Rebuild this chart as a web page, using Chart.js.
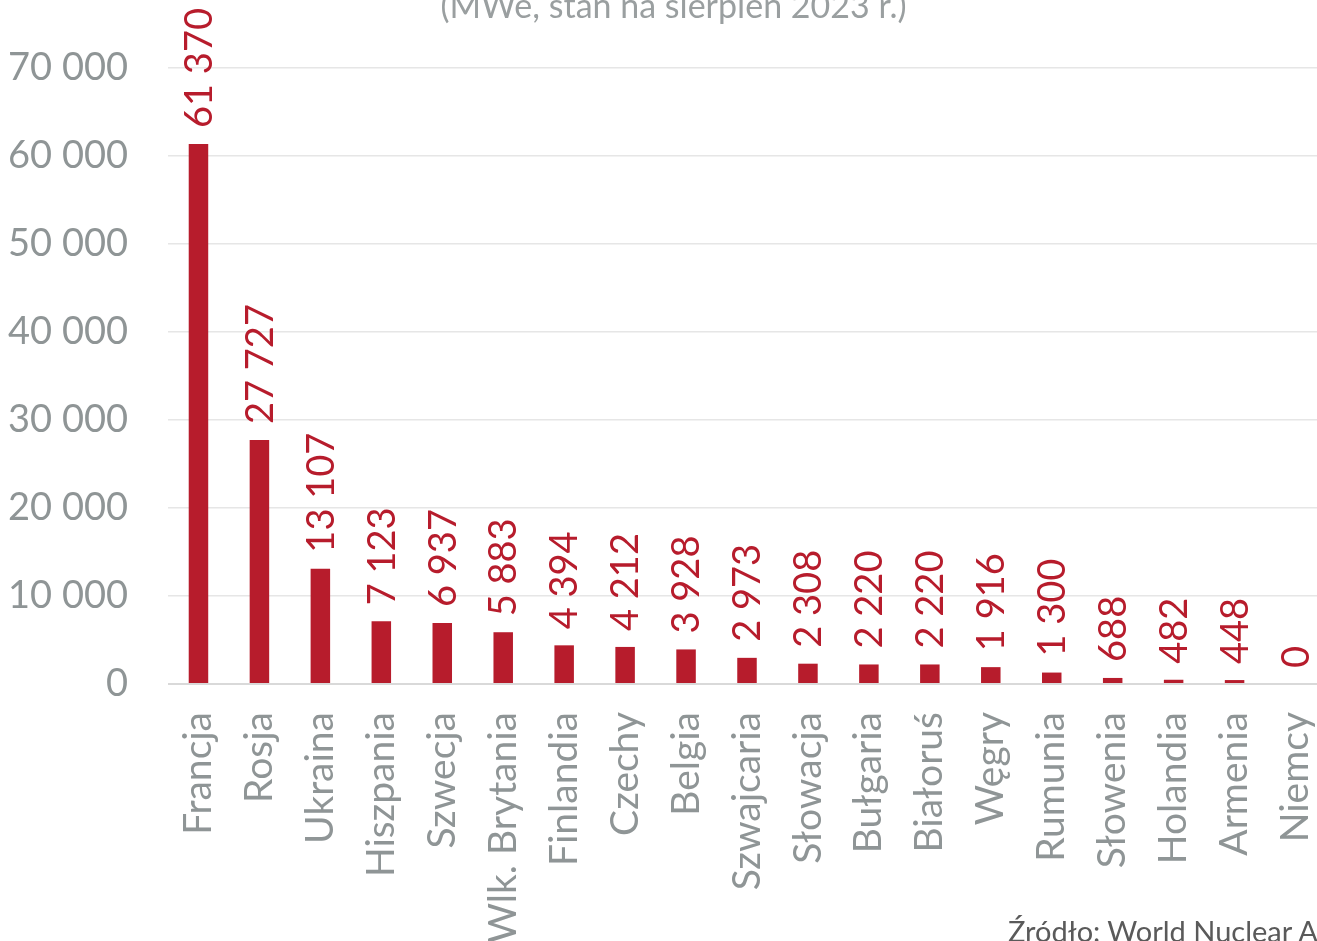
<!DOCTYPE html>
<html>
<head>
    <title>Moc zainstalowana w elektrowniach jądrowych</title>
    <script src="https://cdn.jsdelivr.net/npm/chart.js"></script>
    <style>
        html, body {
            margin: 0;
            padding: 0;
            background: #ffffff;
            overflow: hidden;
            font-family: 'Lato', sans-serif;
        }

        .wrap {
            position: relative;
            width: 1317px;
            height: 941px;
            overflow: hidden;
        }

        canvas {
            display: block;
        }

        .subtitle {
            position: absolute;
            top: -16px;
            left: 0;
            width: 1317px;
            padding-left: 30px;
            box-sizing: border-box;
            text-align: center;
            font-size: 34px;
            color: #9a9fa0;
            white-space: nowrap;
        }

        .source {
            position: absolute;
            left: 1008px;
            top: 913px;
            font-size: 29px;
            color: #5a5a5a;
            white-space: nowrap;
        }
    </style>
</head>
<body>
<div class="wrap">
    <!-- plot area runs a little past the right edge, as in the original crop -->
    <canvas id="capacityChart" width="1326" height="941"></canvas>
    <div class="subtitle">(MWe, stan na sierpień 2023 r.)</div>
    <div class="source">Źródło: World Nuclear Association</div>
</div>

<script>
    const countries = ['Francja', 'Rosja', 'Ukraina', 'Hiszpania', 'Szwecja', 'Wlk. Brytania', 'Finlandia',
        'Czechy', 'Belgia', 'Szwajcaria', 'Słowacja', 'Bułgaria', 'Białoruś', 'Węgry', 'Rumunia',
        'Słowenia', 'Holandia', 'Armenia', 'Niemcy'];
    const capacityMWe = [61370, 27727, 13107, 7123, 6937, 5883, 4394, 4212, 3928, 2973, 2308, 2220,
        2220, 1916, 1300, 688, 482, 448, 0];
    const yTicks = [0, 10000, 20000, 30000, 40000, 50000, 60000, 70000];

    const red = '#b71c2c';
    const grey = '#8f9596';

    function formatPl(v) {
        return String(v).replace(/\B(?=(\d{3})+(?!\d))/g, ' ');
    }

    // vertical value labels above the bars
    const barLabels = {
        id: 'barLabels',
        afterDatasetsDraw(chart) {
            const ctx = chart.ctx;
            const meta = chart.getDatasetMeta(0);
            ctx.save();
            ctx.fillStyle = red;
            ctx.font = '38px Lato';
            ctx.textAlign = 'left';
            ctx.textBaseline = 'middle';
            meta.data.forEach((bar, i) => {
                ctx.save();
                ctx.translate(bar.x + 1, bar.y - 16);
                ctx.rotate(-Math.PI / 2);
                ctx.fillText(formatPl(capacityMWe[i]), 0, 0);
                ctx.restore();
            });
            ctx.restore();
        }
    };

    new Chart(document.getElementById('capacityChart').getContext('2d'), {
        type: 'bar',
        data: {
            labels: countries,
            datasets: [{
                data: capacityMWe,
                backgroundColor: red,
                borderWidth: 0,
                barPercentage: 0.32,
                categoryPercentage: 1
            }]
        },
        options: {
            responsive: false,
            animation: false,
            layout: {
                padding: {top: 68, right: 0, left: 0, bottom: 0}
            },
            plugins: {
                legend: {display: false},
                tooltip: {enabled: false}
            },
            scales: {
                x: {
                    grid: {display: false},
                    border: {display: false},
                    afterFit: scale => {
                        scale.height = 257;
                        scale.paddingLeft = 0;
                        scale.paddingRight = 0;
                    },
                    ticks: {
                        color: grey,
                        font: {family: 'Lato', size: 39},
                        minRotation: 90,
                        maxRotation: 90,
                        padding: 20,
                        autoSkip: false
                    }
                },
                y: {
                    min: 0,
                    max: 70000,
                    afterFit: scale => { scale.width = 168; },
                    afterBuildTicks: scale => {
                        scale.ticks = yTicks.map(v => ({value: v}));
                    },
                    border: {display: false},
                    grid: {
                        color: ctx => ctx.tick.value === 0 ? '#d9d9d9' : '#e6e6e6',
                        lineWidth: ctx => ctx.tick.value === 0 ? 2 : 1.5,
                        drawTicks: false
                    },
                    ticks: {
                        color: grey,
                        font: {family: 'Lato', size: 38},
                        padding: 40,
                        callback: v => formatPl(v)
                    }
                }
            }
        },
        plugins: [barLabels]
    });
</script>
</body>
</html>
